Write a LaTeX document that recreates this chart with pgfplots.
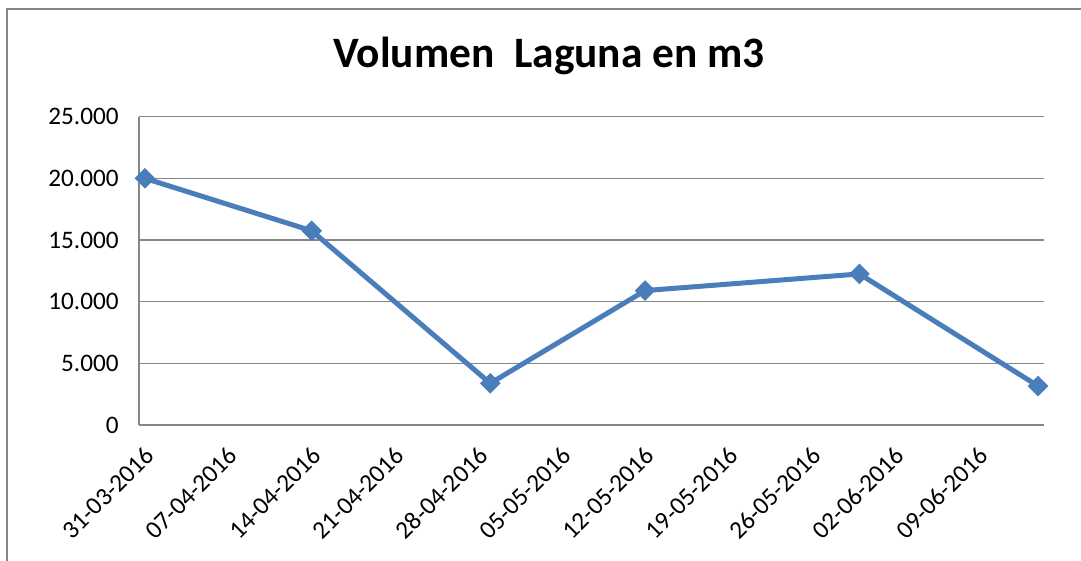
\documentclass[border=0pt]{standalone}
\usepackage{fontspec}
\setmainfont{Carlito}
\usepackage{pgfplots}
\pgfplotsset{compat=1.18}
\newlength\px \setlength\px{0.5bp}
\definecolor{ser}{RGB}{74,126,187}
\definecolor{gridc}{RGB}{134,134,134}
\begin{document}
\begin{tikzpicture}
\useasboundingbox (0,0) rectangle (1081\px,-561\px);
\draw[gridc, line width=1bp] (7\px,-9\px) rectangle (1100\px,-600\px);
\node[font=\bfseries\fontsize{21.7bp}{25bp}\selectfont, anchor=base, inner sep=0pt] at (549\px,-68\px) {Volumen\ \ Laguna en m3};
\begin{axis}[
  at={(139\px,-425\px)}, anchor=south west,
  scale only axis, width=905\px, height=308.3\px,
  xmin=-0.5, xmax=75.5, ymin=0, ymax=25000,
  scaled y ticks=false,
  axis x line*=bottom, axis y line*=left,
  axis line style={gridc, line width=0.75bp, -},
  ymajorgrids, grid style={gridc, line width=0.75bp},
  major tick length=0pt,
  xtick={0,7,14,21,28,35,42,49,56,63,70},
  xticklabels={31-03-2016,07-04-2016,14-04-2016,21-04-2016,28-04-2016,05-05-2016,12-05-2016,19-05-2016,26-05-2016,02-06-2016,09-06-2016},
  ytick={0,5000,10000,15000,20000,25000},
  yticklabels={0,5.000,10.000,15.000,20.000,25.000},
  ticklabel style={font=\fontsize{12.6bp}{15bp}\selectfont, text=black},
  xticklabel style={xshift=2.5bp, yshift=-13bp, rotate=45, anchor=east, inner sep=0pt},
  yticklabel style={anchor=east, inner sep=0pt, xshift=-10bp},
  clip=false,
]
\addplot[color=ser, line width=2.5bp, mark=square*, mark size=3.4bp, mark options={rotate=45, solid, fill=ser, draw=ser, line width=0.5bp}]
  coordinates {(0,20000) (14,15750) (29,3380) (42,10900) (60,12250) (75,3160)};
\end{axis}
\end{tikzpicture}
\end{document}
